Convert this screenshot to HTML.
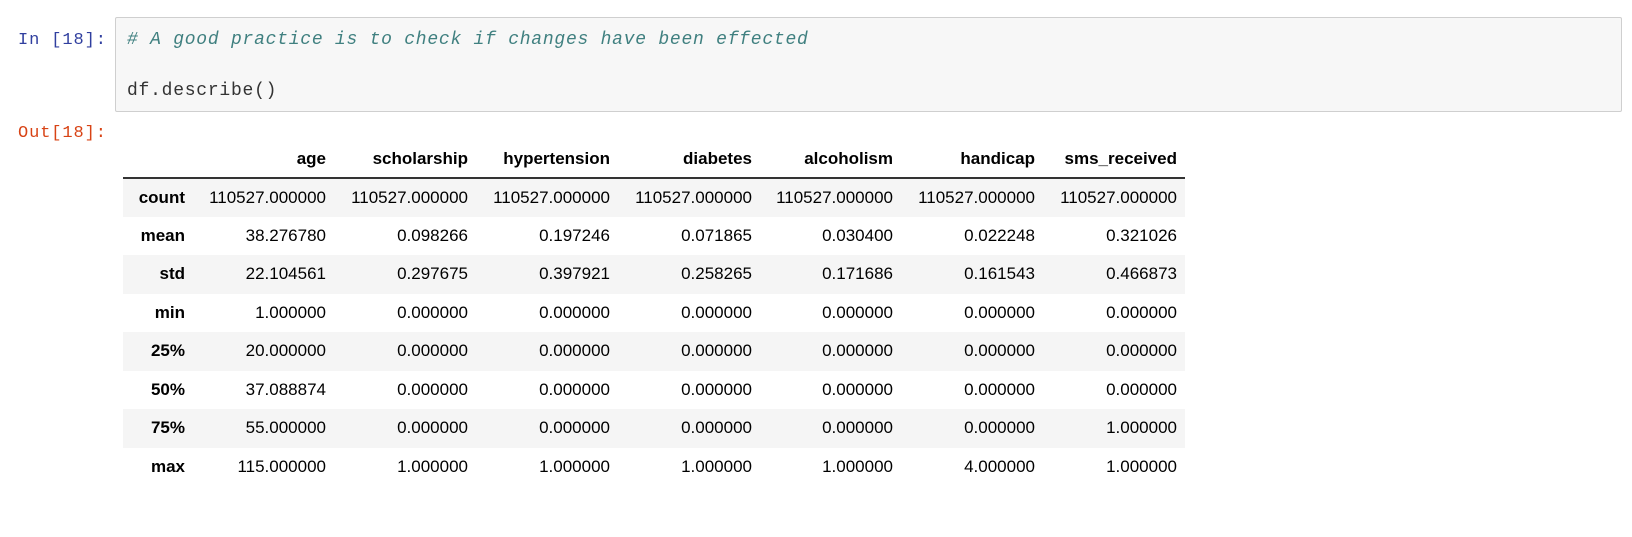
<!DOCTYPE html>
<html><head><meta charset="utf-8"><style>
body{margin:0;width:1632px;height:537px;background:#fff;position:relative;overflow:hidden;font-family:"Liberation Sans",sans-serif}
.prompt{position:absolute;font-family:"Liberation Mono",monospace;font-size:17px;letter-spacing:0.9px;line-height:20px}
#inbox{position:absolute;left:115px;top:17px;width:1505px;height:93px;background:#f7f7f7;border:1px solid #cfcfcf;border-radius:2px}
.code{position:absolute;left:11px;font-family:"Liberation Mono",monospace;font-size:18px;letter-spacing:0.75px;line-height:22px;color:#333}
table{position:absolute;left:123px;top:140px;border-collapse:collapse;font-size:17px;color:#000;table-layout:fixed}
th,td{text-align:right;padding:0 8px;height:38.5px;white-space:nowrap;box-sizing:border-box}
thead th{height:38px;border-bottom:2px solid #333}
tbody th{font-weight:bold}
tbody tr:nth-child(odd){background:#f5f5f5}
</style></head><body>
<div class="prompt" style="left:18px;top:31px;color:#303f9f">In [18]:</div>
<div id="inbox">
<div class="code" style="top:11px;color:#408080;font-style:italic"># A good practice is to check if changes have been effected</div>
<div class="code" style="top:62px">df.describe()</div>
</div>
<div class="prompt" style="left:18px;top:124px;color:#d84315">Out[18]:</div>
<table>
<colgroup><col style="width:70px"><col style="width:141px"><col style="width:142px"><col style="width:142px"><col style="width:142px"><col style="width:141px"><col style="width:142px"><col style="width:142px"></colgroup>
<thead><tr><th></th><th>age</th><th>scholarship</th><th>hypertension</th><th>diabetes</th><th>alcoholism</th><th>handicap</th><th>sms_received</th></tr></thead>
<tbody>
<tr><th>count</th><td>110527.000000</td><td>110527.000000</td><td>110527.000000</td><td>110527.000000</td><td>110527.000000</td><td>110527.000000</td><td>110527.000000</td></tr>
<tr><th>mean</th><td>38.276780</td><td>0.098266</td><td>0.197246</td><td>0.071865</td><td>0.030400</td><td>0.022248</td><td>0.321026</td></tr>
<tr><th>std</th><td>22.104561</td><td>0.297675</td><td>0.397921</td><td>0.258265</td><td>0.171686</td><td>0.161543</td><td>0.466873</td></tr>
<tr><th>min</th><td>1.000000</td><td>0.000000</td><td>0.000000</td><td>0.000000</td><td>0.000000</td><td>0.000000</td><td>0.000000</td></tr>
<tr><th>25%</th><td>20.000000</td><td>0.000000</td><td>0.000000</td><td>0.000000</td><td>0.000000</td><td>0.000000</td><td>0.000000</td></tr>
<tr><th>50%</th><td>37.088874</td><td>0.000000</td><td>0.000000</td><td>0.000000</td><td>0.000000</td><td>0.000000</td><td>0.000000</td></tr>
<tr><th>75%</th><td>55.000000</td><td>0.000000</td><td>0.000000</td><td>0.000000</td><td>0.000000</td><td>0.000000</td><td>1.000000</td></tr>
<tr><th>max</th><td>115.000000</td><td>1.000000</td><td>1.000000</td><td>1.000000</td><td>1.000000</td><td>4.000000</td><td>1.000000</td></tr>
</tbody></table>
</body></html>
